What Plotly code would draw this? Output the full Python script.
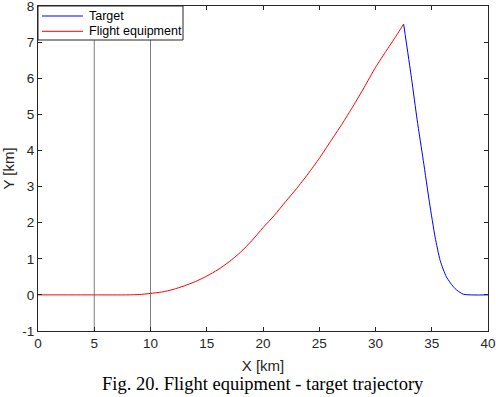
import plotly.graph_objects as go

# Flight equipment trajectory (red)
fe_x = [0, 5, 8, 9, 10, 11, 12, 13, 14, 15, 16, 17, 18, 19, 20, 21, 22, 23, 24,
        25, 26, 27, 28, 29, 30, 31, 32, 32.5]
fe_y = [0, 0, 0, 0.01, 0.04, 0.08, 0.15, 0.25, 0.37, 0.52, 0.7, 0.92, 1.18, 1.5,
        1.86, 2.2, 2.58, 2.95, 3.35, 3.78, 4.25, 4.72, 5.22, 5.75, 6.3, 6.78, 7.25, 7.5]

# Target trajectory (blue)
tg_x = [32.5, 33.2, 33.7, 34.25, 34.8, 35.3, 35.75, 36.3, 37.05, 37.8, 40]
tg_y = [7.5, 6.0, 4.85, 3.72, 2.55, 1.6, 0.95, 0.5, 0.18, 0.02, 0]

# Vertical reference lines
vline_x = [5, 10]
vline_y = [-1, 8]

x_ticks = [0, 5, 10, 15, 20, 25, 30, 35, 40]
y_ticks = [-1, 0, 1, 2, 3, 4, 5, 6, 7, 8]

series_names = ["Target", "Flight equipment"]
series_colors = ["#0000ff", "#ff0000"]

FONT = "Liberation Sans, Arial"
AX = "#262626"

fig = go.Figure()
for vx in vline_x:
    fig.add_trace(go.Scatter(x=[vx, vx], y=vline_y, mode="lines",
                             line=dict(color="#7f7f7f", width=1),
                             showlegend=False, hoverinfo="skip"))
fig.add_trace(go.Scatter(x=tg_x, y=tg_y, mode="lines", name=series_names[0],
                         line=dict(color=series_colors[0], width=1, shape="spline", smoothing=0.6),
                         showlegend=False))
fig.add_trace(go.Scatter(x=fe_x, y=fe_y, mode="lines", name=series_names[1],
                         line=dict(color=series_colors[1], width=1, shape="spline", smoothing=0.6),
                         showlegend=False))

axis_common = dict(showgrid=False, zeroline=False, showline=True, linecolor=AX,
                   linewidth=1, mirror="ticks", ticks="inside", ticklen=4, automargin=False,
                   ticklabeloverflow="allow",
                   tickcolor=AX, tickfont=dict(family=FONT, size=13.5, color=AX))

fig.update_xaxes(range=[0, 40], tickvals=x_ticks, ticktext=[str(v) for v in x_ticks],
                 title=dict(text="X [km]", font=dict(family=FONT, size=15, color=AX), standoff=10),
                 **axis_common)
fig.update_yaxes(range=[-1, 8], tickvals=y_ticks, ticktext=[str(v) for v in y_ticks],
                 title=dict(text="Y [km]", font=dict(family=FONT, size=15, color=AX), standoff=6),
                 **axis_common)

# Custom legend box (plot area: 450 x 325 px)
PW, PH = 450.0, 325.0
shapes = [dict(type="rect", xref="paper", yref="paper",
               x0=0, x1=145 / PW, y0=1 - 34 / PH, y1=1,
               line=dict(color=AX, width=1), fillcolor="white", layer="above")]
annotations = []
row_px = [10, 25.3]
for name, col, rp in zip(series_names, series_colors, row_px):
    yy = 1 - rp / PH
    shapes.append(dict(type="line", xref="paper", yref="paper",
                       x0=4 / PW, x1=45 / PW, y0=yy, y1=yy,
                       line=dict(color=col, width=1), layer="above"))
    annotations.append(dict(text=name, x=49 / PW, y=yy, xref="paper", yref="paper",
                            xanchor="left", yanchor="middle", showarrow=False,
                            font=dict(family=FONT, size=12.5, color="black")))

annotations.append(dict(text="Fig. 20. Flight equipment - target trajectory",
                        x=0.5, y=-53 / PH, xref="paper", yref="paper", xanchor="center",
                        yanchor="middle", showarrow=False,
                        font=dict(family="Liberation Serif, Times New Roman", size=18.5, color="black")))

fig.update_layout(
    width=496, height=397,
    margin=dict(l=38, r=8, t=6, b=66),
    plot_bgcolor="white", paper_bgcolor="white",
    showlegend=False,
    shapes=shapes,
    annotations=annotations,
)

fig.write_html("out.html", config={"displayModeBar": False},
               post_script="document.body.style.margin='0';")
